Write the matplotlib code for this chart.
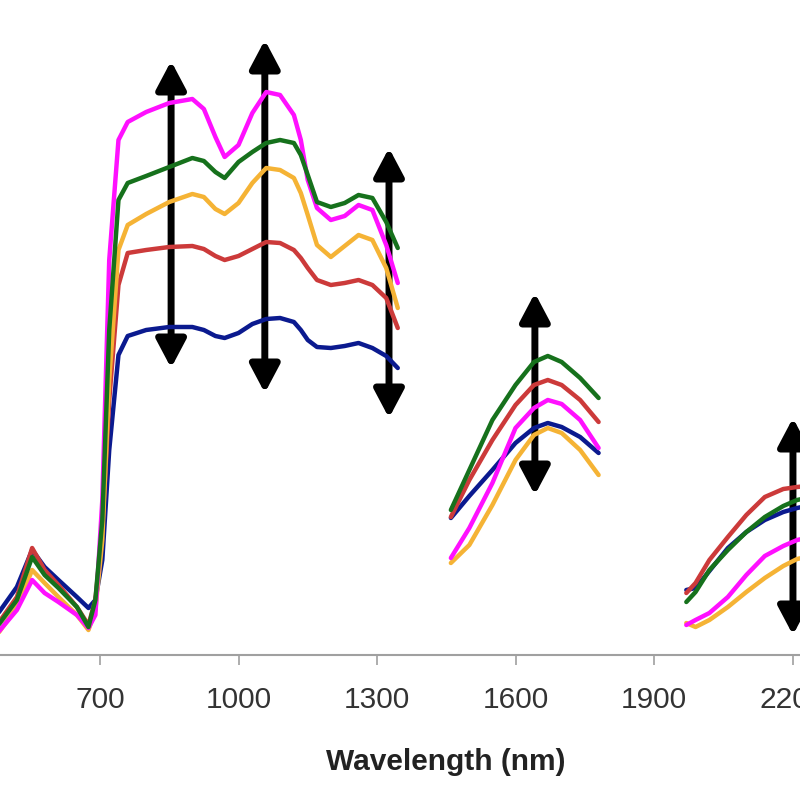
import numpy as np
import matplotlib.pyplot as plt
from matplotlib.patches import FancyArrowPatch

plt.rcParams['font.family'] = ['Liberation Sans', 'DejaVu Sans']

# Region 1: VIS / NIR (nm)
wl_1 = [480, 520, 553, 580, 610, 650, 675, 690, 705, 720, 740, 760, 800, 850,
        900, 925, 950, 970, 1000, 1030, 1060, 1090, 1120, 1135, 1150, 1170, 1200, 1230,
        1260, 1290, 1320, 1345]
magenta_1 = [2.3, 4.5, 7.5, 6.2, 5.3, 4.0, 2.7, 4.0, 15.5, 39.5, 51.5, 53.3, 54.3, 55.2,
             55.6, 54.6, 51.8, 49.8, 51.0, 54.2, 56.3, 56.0, 54.0, 51.5, 47.5, 44.7, 43.5, 43.9,
             45.0, 44.5, 41.0, 37.2]
green_1 = [3.0, 5.5, 9.8, 8.0, 6.7, 4.8, 2.8, 5.5, 13.5, 32.5, 45.5, 47.2, 47.9, 48.8,
           49.7, 49.4, 48.3, 47.7, 49.3, 50.3, 51.2, 51.5, 51.2, 50.0, 48.0, 45.3, 44.8, 45.2,
           46.0, 45.7, 43.3, 40.7]
orange_1 = [2.2, 4.8, 8.5, 7.2, 5.8, 4.0, 2.5, 4.5, 11.5, 27.5, 40.5, 43.0, 44.1, 45.3,
            46.1, 45.8, 44.6, 44.1, 45.2, 47.2, 48.7, 48.5, 47.7, 46.2, 44.0, 41.0, 39.8, 40.9,
            42.0, 41.5, 38.7, 34.7]
red_1 = [3.2, 5.8, 10.7, 8.5, 7.0, 4.8, 3.0, 5.5, 12.5, 25.5, 37.0, 40.2, 40.5, 40.8,
         40.9, 40.6, 39.9, 39.5, 39.9, 40.6, 41.3, 41.2, 40.5, 39.7, 38.7, 37.5, 37.0, 37.2,
         37.5, 37.0, 35.7, 32.7]
blue_1 = [4.2, 6.8, 10.5, 8.8, 7.5, 5.8, 4.7, 5.5, 9.5, 20.5, 30.0, 31.9, 32.5, 32.8,
          32.8, 32.5, 31.9, 31.7, 32.2, 33.1, 33.6, 33.7, 33.3, 32.5, 31.5, 30.8, 30.7, 30.9,
          31.2, 30.7, 29.9, 28.7]

# Region 2: SWIR 1
wl_2 = [1460, 1500, 1550, 1600, 1640, 1670, 1700, 1740, 1780]
magenta_2 = [9.7, 12.7, 17.2, 22.7, 24.7, 25.5, 25.1, 23.5, 20.7]
green_2 = [14.5, 18.5, 23.5, 27.0, 29.3, 29.9, 29.3, 27.7, 25.7]
orange_2 = [9.2, 11.0, 15.0, 19.5, 22.0, 22.7, 22.2, 20.5, 18.0]
red_2 = [13.8, 17.5, 21.5, 25.0, 27.0, 27.5, 27.0, 25.5, 23.3]
blue_2 = [13.7, 15.9, 18.5, 21.2, 22.7, 23.2, 22.8, 21.8, 20.2]

# Region 3: SWIR 2
wl_3 = [1970, 1990, 2020, 2060, 2100, 2140, 2180, 2210, 2230]
magenta_3 = [3.0, 3.5, 4.2, 5.8, 8.0, 9.9, 10.9, 11.5, 11.7]
green_3 = [5.3, 6.3, 8.5, 10.5, 12.3, 13.8, 14.9, 15.5, 15.7]
orange_3 = [3.2, 2.8, 3.5, 4.8, 6.3, 7.7, 8.9, 9.6, 9.8]
red_3 = [6.2, 7.2, 9.5, 11.8, 14.0, 15.8, 16.6, 16.8, 16.9]
blue_3 = [6.5, 6.7, 8.4, 10.7, 12.3, 13.5, 14.3, 14.7, 14.9]

# flechas dobles: (longitud de onda, bajo, alto)
arrows = [(854, 28.7, 59.4), (1057, 26.2, 61.5), (1326, 23.7, 50.7),
          (1642, 16.0, 36.2), (2201, 2.0, 23.7)]

colores = {'blue': '#0b1a8f', 'red': '#cc3a3a', 'orange': '#f5b335',
           'magenta': '#ff10ff', 'green': '#16711c'}

series = [
    ('blue', [blue_1, blue_2, blue_3]),
    ('red', [red_1, red_2, red_3]),
    ('orange', [orange_1, orange_2, orange_3]),
    ('magenta', [magenta_1, magenta_2, magenta_3]),
    ('green', [green_1, green_2, green_3]),
]
wls = [wl_1, wl_2, wl_3]

fig = plt.figure(figsize=(8, 8), dpi=100)
ax = fig.add_axes([-38.5 / 800, 145 / 800, 969.5 / 800, 655 / 800])

for nombre, partes in series:
    for wl, vals in zip(wls, partes):
        ax.plot(wl, vals, color=colores[nombre], lw=3.2, solid_joinstyle='round',
                solid_capstyle='round')

for x, y0, y1 in arrows:
    flecha = FancyArrowPatch((x, y0), (x, y1),
                             arrowstyle='<|-|>,head_length=0.85,head_width=0.45',
                             mutation_scale=20, color='black', lw=5,
                             shrinkA=0, shrinkB=0)
    ax.add_patch(flecha)

ax.set_xlim(400, 2500)
ax.set_ylim(0, 65.5)
ax.set_xticks(np.arange(700, 2201, 300))
ax.set_yticks([])
for s in ['top', 'right', 'left']:
    ax.spines[s].set_visible(False)
ax.spines['bottom'].set_color('#a0a0a0')
ax.spines['bottom'].set_linewidth(1.5)
ax.tick_params(axis='x', direction='out', length=7, width=1.2, color='#a0a0a0',
               labelsize=21.5, labelcolor='#333333', pad=15)
ax.set_xlabel('Wavelength (nm)', fontsize=21.5, fontweight='bold', labelpad=25,
              color='#222222')

fig.savefig('out.png', dpi=100)
